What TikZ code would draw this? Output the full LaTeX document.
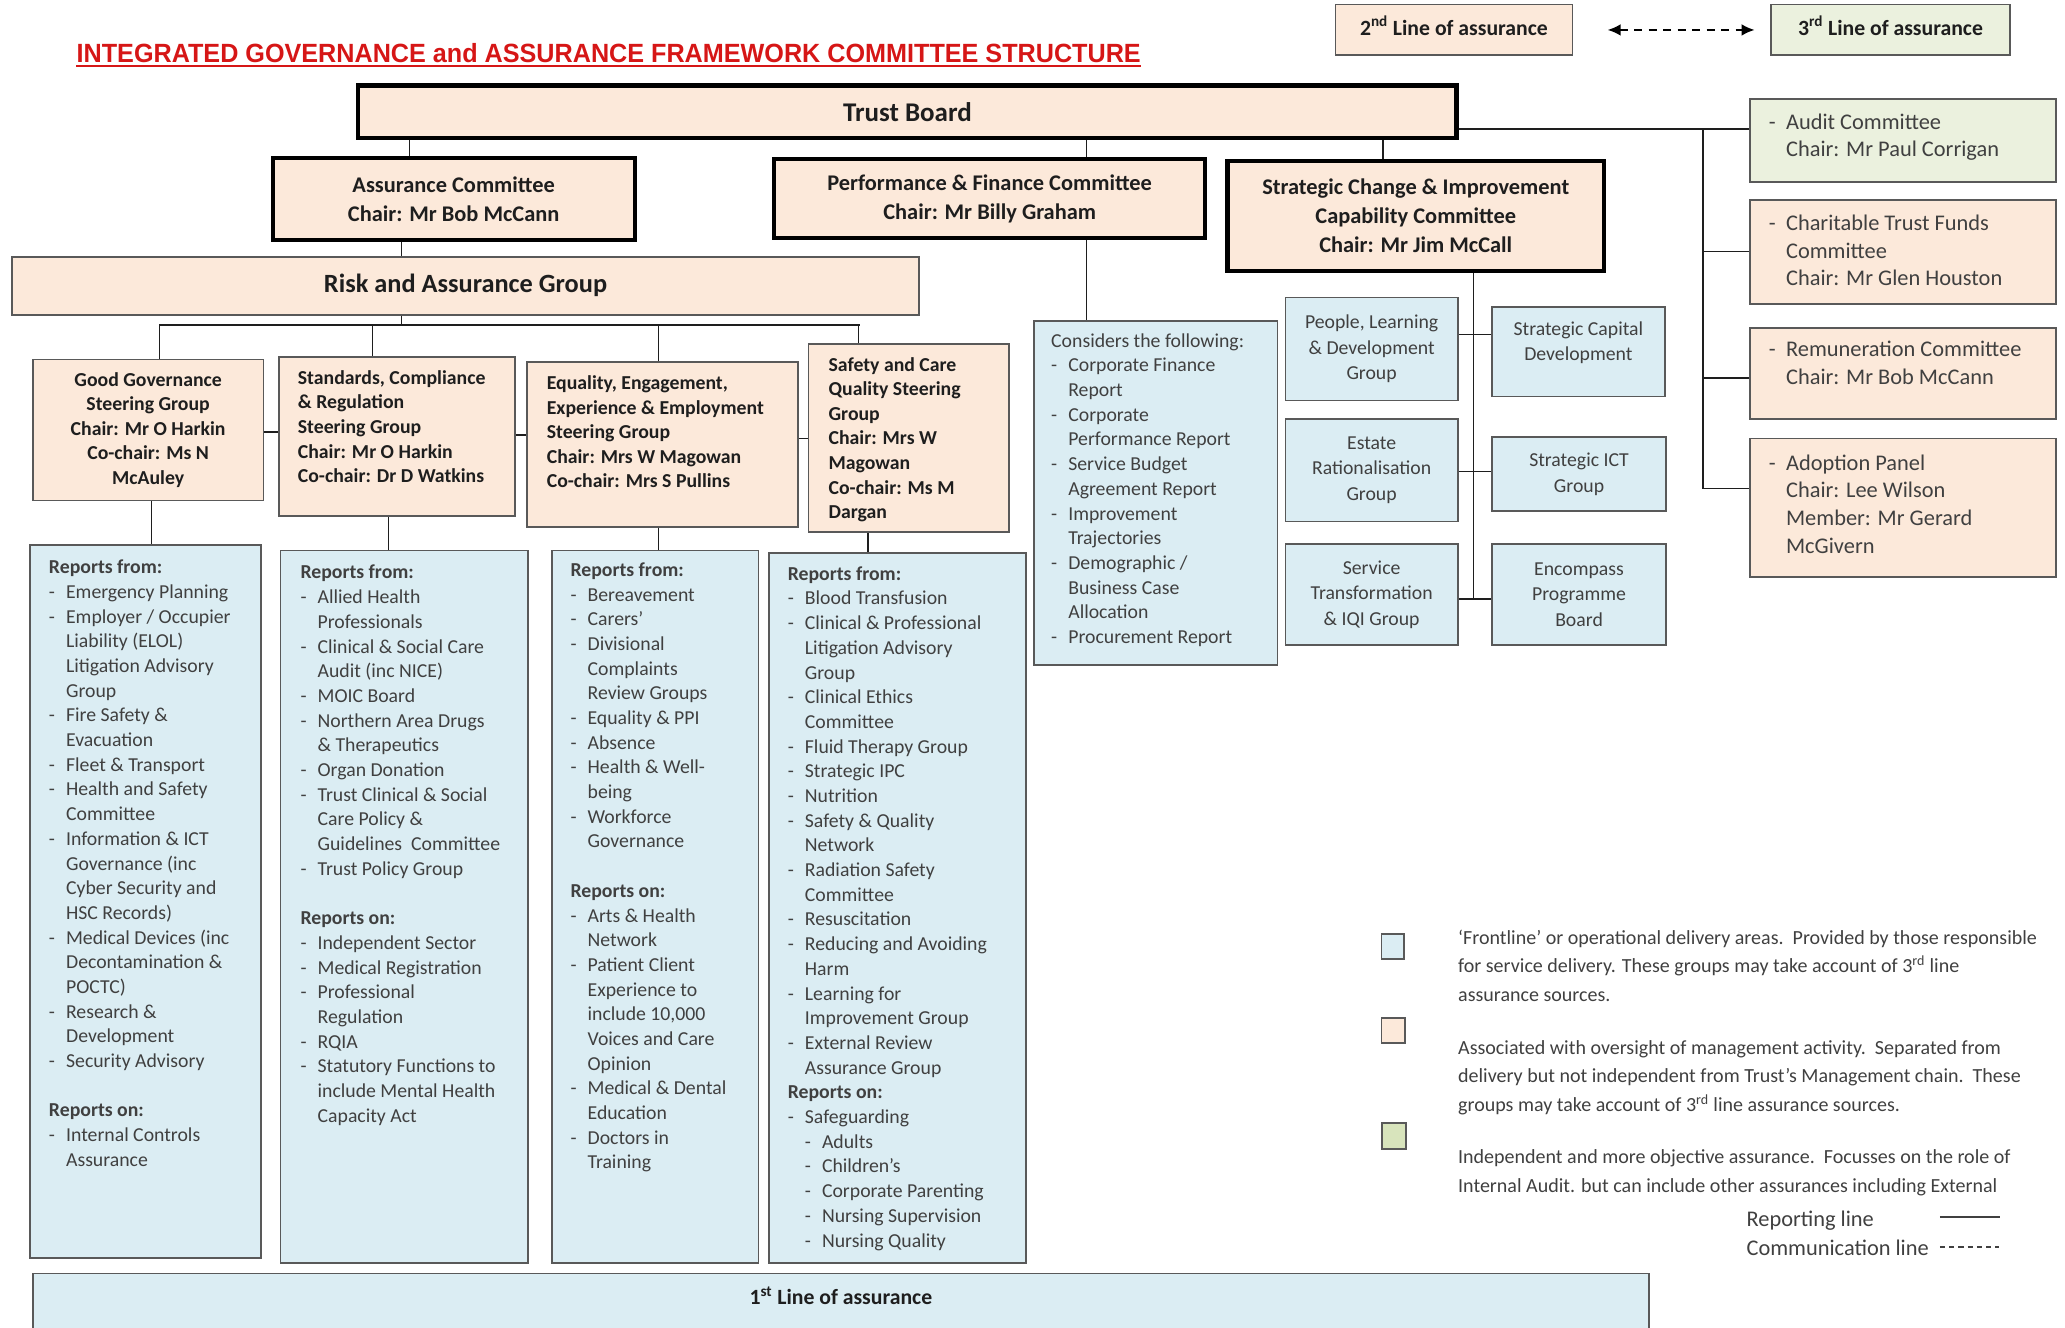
\documentclass[tikz,border=0pt]{standalone}
\usepackage{graphicx}
\usepackage{fontspec}
\setmainfont{Carlito}
\newfontfamily\titlefont{Liberation Sans}
\usetikzlibrary{arrows.meta}

\definecolor{peach}{RGB}{252,233,218}
\definecolor{paleblue}{RGB}{219,237,243}
\definecolor{palegreen}{RGB}{235,241,222}
\definecolor{keygreen}{RGB}{216,228,188}
\definecolor{boxline}{RGB}{89,89,89}
\definecolor{inktext}{RGB}{64,64,64}
\definecolor{inkdark}{RGB}{30,30,30}
\definecolor{headred}{RGB}{214,22,22}

\newcommand\itemdash{\makebox[13pt][l]{-}}
\newcommand\itemgap{\hspace*{13pt}}

\begin{document}
\begin{tikzpicture}[x=1pt, y=-1pt,
	thinbox/.style={draw=boxline, line width=1.3pt, inner sep=0pt, align=center},
	peachbox/.style={thinbox, fill=peach, text=inkdark, font={\fontsize{15}{18.7}\selectfont\bfseries}},
	bluebox/.style={thinbox, fill=paleblue, text=inktext, font={\fontsize{15}{19.5}\selectfont}},
	greenbox/.style={thinbox, fill=palegreen},
	boardbox/.style={draw=black, line width=3.2pt, fill=peach, inner sep=0pt, align=center, text=inkdark, font={\fontsize{17}{22}\selectfont\bfseries}},
	listtext/.style={anchor=north west, inner sep=0pt, align=left, text=inktext, font={\fontsize{15}{18.75}\selectfont}},
	peachtext/.style={anchor=north west, inner sep=0pt, align=left, text=inkdark, font={\fontsize{15}{18.7}\selectfont\bfseries}},
	sidetext/.style={anchor=north west, inner sep=0pt, align=left, text=inktext, font={\fontsize{17}{21}\selectfont}},
	legtext/.style={anchor=north west, inner sep=0pt, align=left, text=inktext, font={\fontsize{15.2}{21.5}\selectfont}},
	link/.style={draw=inkdark, line width=1.2pt},
	comm/.style={draw=black, line width=1.6pt, dash pattern=on 6pt off 5pt, {Latex[length=10pt,width=9pt]}-{Latex[length=10pt,width=9pt]}}]
	\useasboundingbox (0,0) rectangle (1568,1008);
	% heading
	\node[text=headred, anchor=west, inner sep=0pt] (title) at (58,40) {\resizebox{808pt}{14.5pt}{\titlefont\bfseries INTEGRATED GOVERNANCE and ASSURANCE FRAMEWORK COMMITTEE STRUCTURE}};
	\draw[headred, line width=1.6pt] ([yshift=-2.5pt]title.south west) -- ([yshift=-2.5pt]title.south east);
	% key to the lines of assurance
	\node[peachbox, minimum width=180, minimum height=38.5, text height=11pt, text depth=3pt, font={\fontsize{16.5}{20}\selectfont\bfseries}] (line2) at (1104,22.75) {2\textsuperscript{nd} Line of assurance};
	\node[greenbox, minimum width=181, minimum height=38.5, text height=11pt, text depth=3pt, text=inkdark, font={\fontsize{16.5}{20}\selectfont\bfseries}] (line3) at (1435.5,22.75) {3\textsuperscript{rd} Line of assurance};
	\draw[comm] ([xshift=26pt]line2.east) -- ([xshift=-12pt]line3.west);
	% board and committees
	\node[boardbox, minimum width=834, minimum height=40, font={\fontsize{20.5}{24}\selectfont\bfseries}] (tb) at (689,85) {Trust Board};
	\node[boardbox, minimum width=275, minimum height=62] (ac) at (344.5,151) {Assurance Committee\\Chair: Mr Bob McCann};
	\node[boardbox, minimum width=327, minimum height=60] (pf) at (751.5,151) {Performance \& Finance Committee\\Chair: Mr Billy Graham};
	\node[boardbox, minimum width=286, minimum height=84] (sc) at (1075,164) {Strategic Change \& Improvement\\Capability Committee\\Chair: Mr Jim McCall};
	\node[peachbox, minimum width=689, minimum height=44, font={\fontsize{20}{24}\selectfont\bfseries}] (rag) at (353.5,217) {Risk and Assurance Group};
	% steering groups
	\node[peachbox, minimum width=175, minimum height=107] (gg) at (112.5,326.5) {Good Governance\\Steering Group\\Chair: Mr O Harkin\\Co-chair: Ms N\\McAuley};
	\node[peachbox, minimum width=179, minimum height=121] (scr) at (301.5,331.5) {};
	\node[peachtext] (scr-txt) at (226,281) {Standards, Compliance\\\& Regulation\\Steering Group\\Chair: Mr O Harkin\\Co-chair: Dr D Watkins};
	\node[peachbox, minimum width=206, minimum height=125] (eee) at (503,337.5) {};
	\node[peachtext] (eee-txt) at (415,285) {Equality, Engagement,\\Experience \& Employment\\Steering Group\\Chair: Mrs W Magowan\\Co-chair: Mrs S Pullins};
	\node[peachbox, minimum width=152, minimum height=143] (scq) at (690,332.5) {};
	\node[peachtext] (scq-txt) at (629,271) {Safety and Care\\Quality Steering\\Group\\Chair: Mrs W\\Magowan\\Co-chair: Ms M\\Dargan};
	% reporting groups
	\node[bluebox, minimum width=175, minimum height=541] (rgg) at (110.5,684.5) {};
	\node[listtext] (rgg-txt) at (37,425) {\textbf{Reports from:}\\
		\itemdash Emergency Planning\\
		\itemdash Employer / Occupier\\
		\itemgap Liability (ELOL)\\
		\itemgap Litigation Advisory\\
		\itemgap Group\\
		\itemdash Fire Safety \&\\
		\itemgap Evacuation\\
		\itemdash Fleet \& Transport\\
		\itemdash Health and Safety\\
		\itemgap Committee\\
		\itemdash Information \& ICT\\
		\itemgap Governance (inc\\
		\itemgap Cyber Security and\\
		\itemgap HSC Records)\\
		\itemdash Medical Devices (inc\\
		\itemgap Decontamination \&\\
		\itemgap POCTC)\\
		\itemdash Research \&\\
		\itemgap Development\\
		\itemdash Security Advisory\\[18.75pt]
		\textbf{Reports on:}\\
		\itemdash Internal Controls\\
		\itemgap Assurance};
	\node[bluebox, minimum width=188, minimum height=541] (rsc) at (307,688.5) {};
	\node[listtext] (rsc-txt) at (228,429) {\textbf{Reports from:}\\
		\itemdash Allied Health\\
		\itemgap Professionals\\
		\itemdash Clinical \& Social Care\\
		\itemgap Audit (inc NICE)\\
		\itemdash MOIC Board\\
		\itemdash Northern Area Drugs\\
		\itemgap \& Therapeutics\\
		\itemdash Organ Donation\\
		\itemdash Trust Clinical \& Social\\
		\itemgap Care Policy \&\\
		\itemgap Guidelines\ \ Committee\\
		\itemdash Trust Policy Group\\[18.75pt]
		\textbf{Reports on:}\\
		\itemdash Independent Sector\\
		\itemdash Medical Registration\\
		\itemdash Professional\\
		\itemgap Regulation\\
		\itemdash RQIA\\
		\itemdash Statutory Functions to\\
		\itemgap include Mental Health\\
		\itemgap Capacity Act};
	\node[bluebox, minimum width=157, minimum height=541] (ree) at (497.5,688.5) {};
	\node[listtext] (ree-txt) at (433,427) {\textbf{Reports from:}\\
		\itemdash Bereavement\\
		\itemdash Carers’\\
		\itemdash Divisional\\
		\itemgap Complaints\\
		\itemgap Review Groups\\
		\itemdash Equality \& PPI\\
		\itemdash Absence\\
		\itemdash Health \& Well-\\
		\itemgap being\\
		\itemdash Workforce\\
		\itemgap Governance\\[18.75pt]
		\textbf{Reports on:}\\
		\itemdash Arts \& Health\\
		\itemgap Network\\
		\itemdash Patient Client\\
		\itemgap Experience to\\
		\itemgap include 10,000\\
		\itemgap Voices and Care\\
		\itemgap Opinion\\
		\itemdash Medical \& Dental\\
		\itemgap Education\\
		\itemdash Doctors in\\
		\itemgap Training};
	\node[bluebox, minimum width=195, minimum height=539] (rsq) at (681.5,689.5) {};
	\node[listtext] (rsq-txt) at (598,430) {\textbf{Reports from:}\\
		\itemdash Blood Transfusion\\
		\itemdash Clinical \& Professional\\
		\itemgap Litigation Advisory\\
		\itemgap Group\\
		\itemdash Clinical Ethics\\
		\itemgap Committee\\
		\itemdash Fluid Therapy Group\\
		\itemdash Strategic IPC\\
		\itemdash Nutrition\\
		\itemdash Safety \& Quality\\
		\itemgap Network\\
		\itemdash Radiation Safety\\
		\itemgap Committee\\
		\itemdash Resuscitation\\
		\itemdash Reducing and Avoiding\\
		\itemgap Harm\\
		\itemdash Learning for\\
		\itemgap Improvement Group\\
		\itemdash External Review\\
		\itemgap Assurance Group\\
		\textbf{Reports on:}\\
		\itemdash Safeguarding\\
		\itemgap\itemdash Adults\\
		\itemgap\itemdash Children’s\\
		\itemgap\itemdash Corporate Parenting\\
		\itemgap\itemdash Nursing Supervision\\
		\itemgap\itemdash Nursing Quality};
	\node[bluebox, minimum width=185, minimum height=261] (cons) at (877.5,374.5) {};
	\node[listtext] (cons-txt) at (798,253) {Considers the following:\\
		\itemdash Corporate Finance\\
		\itemgap Report\\
		\itemdash Corporate\\
		\itemgap Performance Report\\
		\itemdash Service Budget\\
		\itemgap Agreement Report\\
		\itemdash Improvement\\
		\itemgap Trajectories\\
		\itemdash Demographic /\\
		\itemgap Business Case\\
		\itemgap Allocation\\
		\itemdash Procurement Report};
	% strategic change groups
	\node[bluebox, minimum width=131, minimum height=78] (people) at (1041.5,265) {People, Learning\\\& Development\\Group};
	\node[bluebox, minimum width=131, minimum height=78] (estate) at (1041.5,357) {Estate\\Rationalisation\\Group};
	\node[bluebox, minimum width=131, minimum height=77] (service) at (1041.5,451.5) {Service\\Transformation\\\& IQI Group};
	\node[bluebox, minimum width=131, minimum height=68] (capital) at (1198.5,267) {Strategic Capital\\Development\\[-3.5pt]};
	\node[bluebox, minimum width=132, minimum height=56] (ict) at (1199,360) {Strategic ICT\\Group};
	\node[bluebox, minimum width=132, minimum height=77] (encompass) at (1199,451.5) {Encompass\\Programme\\Board};
	% board committees on the right
	\node[greenbox, minimum width=232, minimum height=63] (audit) at (1445,106.5) {};
	\node[sidetext] (audit-txt) at (1343,86) {\itemdash Audit Committee\\\itemgap Chair: Mr Paul Corrigan};
	\node[peachbox, minimum width=232, minimum height=79] (charity) at (1445,191.5) {};
	\node[sidetext] (charity-txt) at (1343,163) {\itemdash Charitable Trust Funds\\\itemgap Committee\\\itemgap Chair: Mr Glen Houston};
	\node[peachbox, minimum width=232, minimum height=69] (remun) at (1445,283.5) {};
	\node[sidetext] (remun-txt) at (1343,259) {\itemdash Remuneration Committee\\\itemgap Chair: Mr Bob McCann};
	\node[peachbox, minimum width=232, minimum height=105] (adopt) at (1445,385.5) {};
	\node[sidetext] (adopt-txt) at (1343,345) {\itemdash Adoption Panel\\\itemgap Chair: Lee Wilson\\\itemgap Member: Mr Gerard\\\itemgap McGivern};
	% first line of assurance
	\node[bluebox, minimum width=1227, minimum height=70] (first) at (638.5,1002) {};
	\node[inner sep=0pt, text=inkdark, font={\fontsize{16.5}{20}\selectfont\bfseries}] (first-txt) at (638.5,984) {1\textsuperscript{st} Line of assurance};
	% legend
	\node[bluebox, minimum width=17, minimum height=19] (keyblue) at (1057.5,718.5) {};
	\node[peachbox, minimum width=18, minimum height=19] (keypeach) at (1058,782.5) {};
	\node[thinbox, fill=keygreen, minimum width=18, minimum height=20] (keygreen) at (1058.5,862.5) {};
	\node[legtext] (keyblue-txt) at (1107,706) {‘Frontline’ or operational delivery areas.\ \ Provided by those responsible\\for service delivery. These groups may take account of 3\textsuperscript{rd} line\\assurance sources.};
	\node[legtext] (keypeach-txt) at (1107,790) {Associated with oversight of management activity.\ \ Separated from\\delivery but not independent from Trust’s Management chain.\ \ These\\groups may take account of 3\textsuperscript{rd} line assurance sources.};
	\node[legtext] (keygreen-txt) at (1107,873) {Independent and more objective assurance.\ \ Focusses on the role of\\Internal Audit. but can include other assurances including External};
	\node[anchor=west, inner sep=0pt, text=inktext, font={\fontsize{17}{21}\selectfont}] (replab) at (1326,926.5) {Reporting line};
	\node[anchor=west, inner sep=0pt, text=inktext, font={\fontsize{17}{21}\selectfont}] (comlab) at (1326,947.5) {Communication line};
	\coordinate (repa) at (1473,924);
	\coordinate (repb) at (1519,924);
	\coordinate (coma) at (1473,947);
	\coordinate (comb) at (1518,947);
	\draw[inktext, line width=1.3pt] (repa) -- (repb);
	\draw[inktext, line width=1.2pt, dash pattern=on 4pt off 3pt] (coma) -- (comb);
	% reporting lines
	\draw[link] (311,0 |- tb.south) -- (311,0 |- ac.north);
	\draw[link] (825,0 |- tb.south) -- (825,0 |- pf.north);
	\draw[link] (1050,0 |- tb.south) -- (1050,0 |- sc.north);
	\draw[link] (305,0 |- ac.south) -- (305,0 |- rag.north);
	\draw[link] (825,0 |- pf.south) -- (825,0 |- cons.north);
	\coordinate (ragbus) at (305,247);
	\draw[link] (305,0 |- rag.south) -- (ragbus);
	\draw[link] (121,0 |- ragbus) -- (653,0 |- ragbus);
	\foreach \n/\x in {gg/121, scr/283, eee/500, scq/652} {
		\draw[link] (\x,0 |- ragbus) -- (\x,0 |- \n.north);
	}
	\foreach \a/\b/\y in {gg/scr/328, scr/eee/330.5, eee/scq/333} {
		\draw[link] (\a.east |- 0,\y) -- (\b.west |- 0,\y);
	}
	\foreach \n/\r/\x in {gg/rgg/115, scr/rsc/295, eee/ree/500, scq/rsq/659} {
		\draw[link] (\x,0 |- \n.south) -- (\x,0 |- \r.north);
	}
	\coordinate (scbus) at (1119,455);
	\draw[link] (1119,0 |- sc.south) -- (scbus);
	\foreach \a/\b/\y in {people/capital/254, estate/ict/358, service/encompass/455} {
		\draw[link] (\a.east |- 0,\y) -- (\b.west |- 0,\y);
	}
	\coordinate (sidebus) at (1293,371);
	\draw[link] (tb.east |- 0,98) -- (audit.west |- 0,98);
	\draw[link] (1293,98) -- (sidebus);
	\foreach \n/\y in {charity/191, remun/287, adopt/371} {
		\draw[link] (1293,\y) -- (\n.west |- 0,\y);
	}
\end{tikzpicture}
\end{document}
